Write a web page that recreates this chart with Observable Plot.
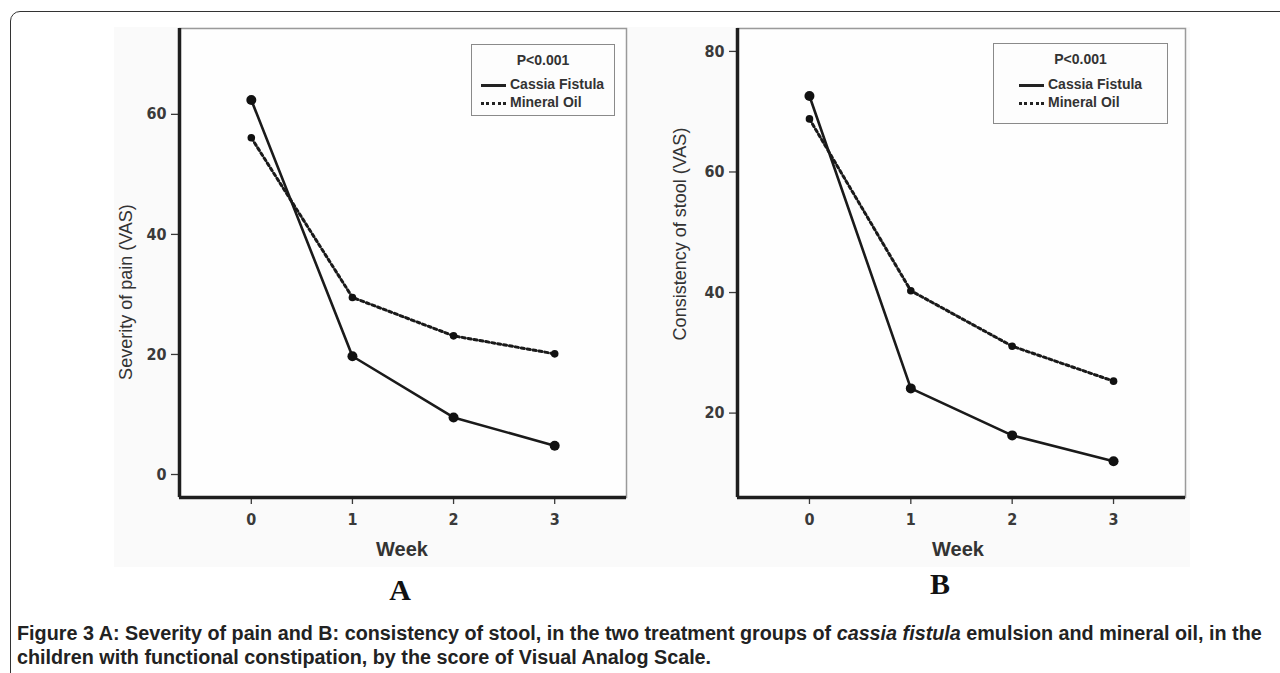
<!DOCTYPE html>
<html><head><meta charset="utf-8">
<script src="https://cdn.jsdelivr.net/npm/d3@7"></script>
<script src="https://cdn.jsdelivr.net/npm/@observablehq/plot@0.6"></script>
<style>
body{margin:0;width:1280px;height:673px;overflow:hidden;background:#fff;position:relative;font-family:"Liberation Sans",Arial,sans-serif;color:#222;}
.abs{position:absolute;}
#frame{position:absolute;left:10px;top:11px;width:1300px;height:700px;border:1.5px solid #333;border-radius:10px;box-sizing:border-box;}
#bg{position:absolute;left:114px;top:27px;width:1076px;height:540px;background:#fafafa;}
.ylab{position:absolute;font-size:18px;color:#333;white-space:nowrap;transform:translate(-50%,-50%) rotate(-90deg);}
.xlab{position:absolute;font-size:20px;font-weight:bold;color:#333;transform:translate(-50%,-50%);}
.letter{position:absolute;font-family:"Liberation Serif","Times New Roman",serif;font-weight:bold;font-size:30px;color:#111;transform:translate(-50%,-50%);}
.legend{position:absolute;border:1.5px solid #8a8a8a;box-sizing:border-box;font-weight:bold;font-size:14px;color:#333;background:#fdfdfd;}
.legend .p{position:absolute;left:0;right:0;text-align:center;top:7px;}
.legend .row{position:absolute;white-space:nowrap;line-height:16px;}
.legend .sw{display:inline-block;width:25px;vertical-align:middle;margin-right:4px;}
.cap{position:absolute;left:17px;white-space:nowrap;font-weight:bold;color:#222;line-height:24px;}
svg .mineral path{stroke-dasharray:3 3 !important;}
svg text{font-family:"DejaVu Sans Condensed","DejaVu Sans",sans-serif;font-stretch:condensed;}
</style></head><body>
<div id="frame"></div>
<div id="bg"></div>
<div id="panelA" class="abs" style="left:100px;top:10px"></div>
<div id="panelB" class="abs" style="left:660px;top:10px"></div>
<div class="ylab" style="left:126px;top:292px">Severity of pain (VAS)</div>
<div class="ylab" style="left:680px;top:234px">Consistency of stool (VAS)</div>
<div class="xlab" style="left:402px;top:549px">Week</div>
<div class="xlab" style="left:958px;top:549px">Week</div>
<div class="letter" style="left:400px;top:590px">A</div>
<div class="letter" style="left:940px;top:584px">B</div>
<div class="legend" style="left:471px;top:44px;width:144px;height:72px">
  <div class="p">P&lt;0.001</div>
  <div class="row" style="left:9px;top:31px"><span class="sw" style="border-top:3px solid #222"></span>Cassia Fistula</div>
  <div class="row" style="left:9px;top:49px"><span class="sw" style="border-top:3px dotted #222"></span>Mineral Oil</div>
</div>
<div class="legend" style="left:993px;top:43px;width:175px;height:81px">
  <div class="p">P&lt;0.001</div>
  <div class="row" style="left:25px;top:32px"><span class="sw" style="border-top:3px solid #222"></span>Cassia Fistula</div>
  <div class="row" style="left:25px;top:50px"><span class="sw" style="border-top:3px dotted #222"></span>Mineral Oil</div>
</div>
<div id="cap1" class="cap" style="top:621px"><span style="font-weight:bold">Figure 3</span> A: Severity of pain and B: consistency of stool, in the two treatment groups of <i>cassia fistula</i> emulsion and mineral oil, in the</div>
<div id="cap2" class="cap" style="top:645px">children with functional constipation, by the score of Visual Analog Scale.</div>
<script>
const weeks = [0, 1, 2, 3];
const seriesNames = ["Cassia Fistula", "Mineral Oil"];
const painCassia = [62.4, 19.7, 9.5, 4.8];
const painMineral = [56.1, 29.5, 23.1, 20.1];
const stoolCassia = [72.6, 24.1, 16.3, 12.0];
const stoolMineral = [68.8, 40.3, 31.1, 25.3];
const painTicks = [0, 20, 40, 60];
const stoolTicks = [20, 40, 60, 80];
const xDomain = [-0.71, 3.71];
const painDomain = [-3.83, 74.3];
const stoolDomain = [6.0, 83.8];

function panel(cassia, mineral, yDomain, yTicks, marginLeft, marginRight) {
  const rowsC = weeks.map((w, i) => ({week: w, value: cassia[i], group: seriesNames[0]}));
  const rowsM = weeks.map((w, i) => ({week: w, value: mineral[i], group: seriesNames[1]}));
  const svg = Plot.plot({
    width: 540, height: 560,
    marginLeft, marginRight, marginTop: 18, marginBottom: 73,
    x: {domain: xDomain, label: null},
    y: {domain: yDomain, label: null},
    style: {fontSize: "16px", fontWeight: "bold", color: "#333", background: "transparent", overflow: "visible"},
    marks: [
      Plot.frame({fill: "#fefefe", stroke: "#9a9a9a", strokeWidth: 1.5}),
      Plot.axisY(yTicks, {tickSize: 8, tickPadding: 5, color: "#3a3a3a", strokeWidth: 1.3, fontSize: 16, fontWeight: "bold"}),
      Plot.axisX(weeks, {tickSize: 7, tickPadding: 9, color: "#3a3a3a", strokeWidth: 1.3, fontSize: 16, fontWeight: "bold"}),
      Plot.ruleX([xDomain[0]], {stroke: "#1e1e1e", strokeWidth: 3.5}),
      Plot.ruleY([yDomain[0]], {stroke: "#1e1e1e", strokeWidth: 3.5}),
      Plot.line(rowsM, {x: "week", y: "value", stroke: "#1a1a1a", strokeWidth: 3, strokeDasharray: "3,3"}),
      Plot.line(rowsC, {x: "week", y: "value", stroke: "#1a1a1a", strokeWidth: 2.6}),
      Plot.dot(rowsM, {x: "week", y: "value", r: 3.8, fill: "#111", stroke: "none"}),
      Plot.dot(rowsC, {x: "week", y: "value", r: 5, fill: "#111", stroke: "none"})
    ]
  });
  const lines = svg.querySelectorAll('g[aria-label="line"]');
  if (lines.length) lines[0].classList.add("mineral");
  return svg;
}

document.getElementById("panelA").appendChild(panel(painCassia, painMineral, painDomain, painTicks, 79, 14));
document.getElementById("panelB").appendChild(panel(stoolCassia, stoolMineral, stoolDomain, stoolTicks, 77, 15));

// fit caption first line to reference width
const c1 = document.getElementById("cap1"), c2 = document.getElementById("cap2");
let fs = 16;
c1.style.fontSize = fs + "px";
const w = c1.getBoundingClientRect().width;
fs = fs * 1245 / w;
c1.style.fontSize = fs + "px";
c2.style.fontSize = fs + "px";
</script>
</body></html>
